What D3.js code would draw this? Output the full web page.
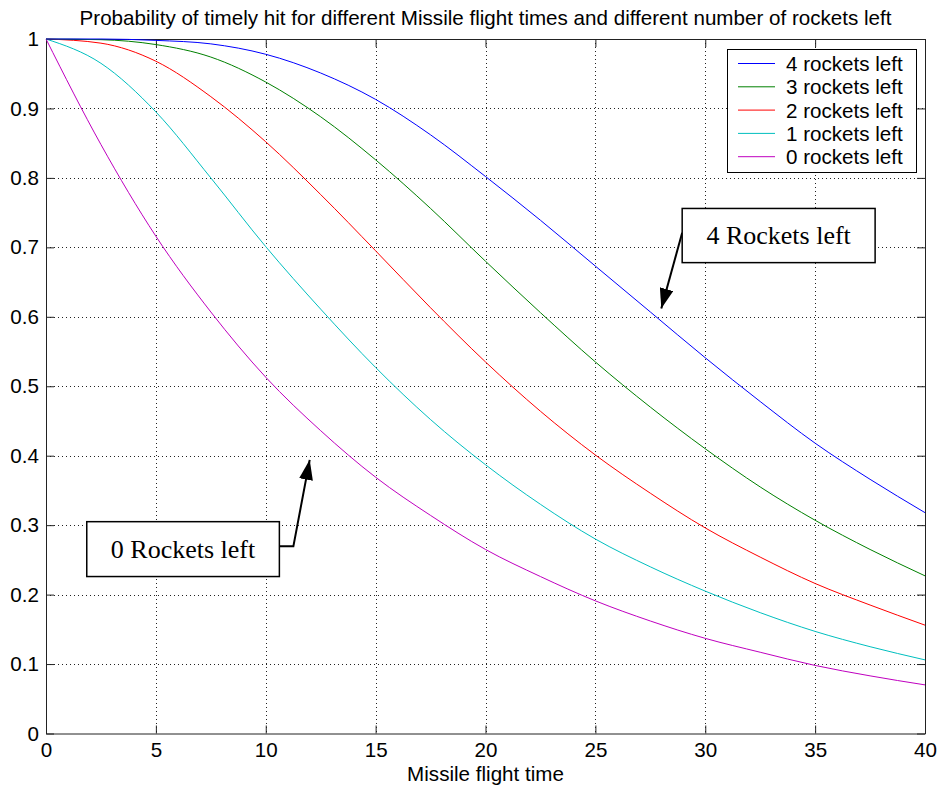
<!DOCTYPE html>
<html><head><meta charset="utf-8">
<script src="https://cdn.jsdelivr.net/npm/d3@7/dist/d3.min.js"></script>
<style>body{margin:0;background:#fff} svg{display:block}</style>
</head><body><svg id="c" width="938" height="788"></svg>
<script>
// ---- data ----
const flightTimes = [0,2.5,5,7.5,10,12.5,15,17.5,20,22.5,25,27.5,30,32.5,35,37.5,40];
const rockets4 = [1.000,1.000,0.998,0.993,0.978,0.951,0.913,0.862,0.802,0.739,0.673,0.607,0.541,0.478,0.418,0.366,0.318];
const rockets3 = [1.000,0.999,0.992,0.974,0.938,0.888,0.826,0.756,0.680,0.606,0.535,0.470,0.410,0.355,0.307,0.265,0.227];
const rockets2 = [1.000,0.994,0.968,0.917,0.852,0.776,0.695,0.613,0.535,0.464,0.401,0.346,0.296,0.254,0.216,0.185,0.156];
const rockets1 = [1.000,0.965,0.895,0.800,0.701,0.611,0.527,0.452,0.387,0.330,0.280,0.240,0.205,0.174,0.147,0.125,0.106];
const rockets0 = [1.000,0.848,0.716,0.607,0.513,0.436,0.369,0.314,0.265,0.226,0.191,0.162,0.137,0.117,0.098,0.083,0.070];
const seriesNames = ["4 rockets left","3 rockets left","2 rockets left","1 rockets left","0 rockets left"];
const seriesValues = [rockets4, rockets3, rockets2, rockets1, rockets0];
const seriesColors = ["#0000ff","#008000","#ff0000","#00bfbf","#bf00bf"];
const xTicks = [0,5,10,15,20,25,30,35,40];
const xTickLabels = ["0","5","10","15","20","25","30","35","40"];
const yTicks = [0,0.1,0.2,0.3,0.4,0.5,0.6,0.7,0.8,0.9,1];
const yTickLabels = ["0","0.1","0.2","0.3","0.4","0.5","0.6","0.7","0.8","0.9","1"];
const titleText = "Probability of timely hit for different Missile flight times and different number of rockets left";
const xLabelText = "Missile flight time";
// annotations: arrow tip (t,v), box top-left (t,v), box bottom-right (t,v)
const annotationTexts = ["4 Rockets left","0 Rockets left"];
const annotationTips = [[28.0,0.612],[12.0,0.394]];
const annotationBoxes = [[[28.95,0.756],[37.73,0.678]],[[1.855,0.305],[10.62,0.226]]];

// ---- chart ----
const svg = d3.select("#c");
const x = d3.scaleLinear().domain([0,40]).range([46,925]);
const y = d3.scaleLinear().domain([0,1]).range([733.5,39]);
const font = "Arial, 'Liberation Sans', Helvetica, sans-serif";
const serif = "'Times New Roman', 'Liberation Serif', Times, serif";
const fs = "20.6px";

// grid
const grid = svg.append("g").attr("shape-rendering","crispEdges");
grid.selectAll("line.gx").data(xTicks.filter(d=>d>0&&d<40)).join("line")
  .attr("x1",d=>Math.round(x(d))+0.5).attr("x2",d=>Math.round(x(d))+0.5)
  .attr("y1",y(1)).attr("y2",y(0))
  .attr("stroke","#222").attr("stroke-dasharray","1,3").attr("stroke-width",1);
grid.selectAll("line.gy").data(yTicks.filter(d=>d>0&&d<1)).join("line")
  .attr("y1",d=>Math.round(y(d))+0.5).attr("y2",d=>Math.round(y(d))+0.5)
  .attr("x1",x(0)).attr("x2",x(40))
  .attr("stroke","#222").attr("stroke-dasharray","1,3").attr("stroke-width",1);

// axes (d3 axes, ticks inward on all four sides)
const axisStyle = g => {
  g.selectAll("path.domain").attr("stroke","#222");
  g.selectAll(".tick line").attr("stroke","#222");
  g.selectAll(".tick text").attr("font-family",font).attr("font-size",fs).attr("fill","#000");
};
const xi = (i)=>xTickLabels[xTicks.indexOf(i)];
const yi = (v)=>yTickLabels[yTicks.findIndex(t=>Math.abs(t-v)<1e-9)];
svg.append("g").attr("transform",`translate(0,${y(0)})`)
  .call(d3.axisBottom(x).tickValues(xTicks).tickFormat(xi).tickSizeInner(-8).tickSizeOuter(0).tickPadding(9))
  .call(axisStyle);
svg.append("g").attr("transform",`translate(0,${y(1)})`)
  .call(d3.axisTop(x).tickValues(xTicks).tickFormat("").tickSizeInner(-8).tickSizeOuter(0))
  .call(axisStyle);
svg.append("g").attr("transform",`translate(${x(0)},0)`)
  .call(d3.axisLeft(y).tickValues(yTicks).tickFormat(yi).tickSizeInner(-8).tickSizeOuter(0).tickPadding(7))
  .call(axisStyle);
svg.append("g").attr("transform",`translate(${x(40)},0)`)
  .call(d3.axisRight(y).tickValues(yTicks).tickFormat("").tickSizeInner(-8).tickSizeOuter(0))
  .call(axisStyle);

// lines
const line = d3.line().x((d,i)=>x(flightTimes[i])).y(d=>y(d)).curve(d3.curveMonotoneX);
const plot = svg.append("g");
seriesValues.slice().reverse().forEach((vals,ri)=>{
  const i = seriesValues.length-1-ri;
  plot.append("path").datum(vals).attr("d",line)
    .attr("fill","none").attr("stroke",seriesColors[i]).attr("stroke-width",1);
});

// title and x label
svg.append("text").attr("x",485.5).attr("y",25).attr("text-anchor","middle")
  .attr("font-family",font).attr("font-size",fs).text(titleText);
svg.append("text").attr("x",485.5).attr("y",781).attr("text-anchor","middle")
  .attr("font-family",font).attr("font-size",fs).text(xLabelText);

// legend
const lg = svg.append("g");
lg.append("rect").attr("x",727.5).attr("y",49.5).attr("width",189).attr("height",123)
  .attr("fill","#fff").attr("stroke","#000").attr("stroke-width",1);
seriesNames.forEach((n,i)=>{
  const cy = 63.5 + i*23.3;
  lg.append("line").attr("x1",738).attr("x2",775).attr("y1",cy).attr("y2",cy)
    .attr("stroke",seriesColors[i]).attr("stroke-width",1);
  lg.append("text").attr("x",786).attr("y",cy).attr("dy","0.36em")
    .attr("font-family",font).attr("font-size",fs).text(n);
});

// annotations
const defs = svg.append("defs");
defs.append("marker").attr("id","ah").attr("viewBox","0 0 20 14").attr("refX",20).attr("refY",7)
  .attr("markerWidth",20).attr("markerHeight",14).attr("markerUnits","userSpaceOnUse")
  .attr("orient","auto").append("path").attr("d","M0,0L20,7L0,14Z").attr("fill","#000");
const an = svg.append("g");
annotationTexts.forEach((t,i)=>{
  const [tl,br] = annotationBoxes[i];
  const bx = x(tl[0]), by = y(tl[1]), bw = x(br[0])-bx, bh = y(br[1])-by;
  const tip = [x(annotationTips[i][0]), y(annotationTips[i][1])];
  let pts;
  if (i===0) {
    pts = [[bx, by+bh*0.45], tip];
  } else {
    pts = [[bx+bw, by+bh*0.45],[bx+bw+14, by+bh*0.45], tip];
  }
  an.append("path").attr("d",d3.line()(pts)).attr("fill","none").attr("stroke","#000")
    .attr("stroke-width",2).attr("marker-end","url(#ah)");
  an.append("rect").attr("x",bx).attr("y",by).attr("width",bw).attr("height",bh)
    .attr("fill","#fff").attr("stroke","#000").attr("stroke-width",1.5);
  an.append("text").attr("x",bx+bw/2).attr("y",by+bh/2).attr("dy","0.33em")
    .attr("text-anchor","middle").attr("font-family",serif).attr("font-size","26px").text(t);
});
</script></body></html>
